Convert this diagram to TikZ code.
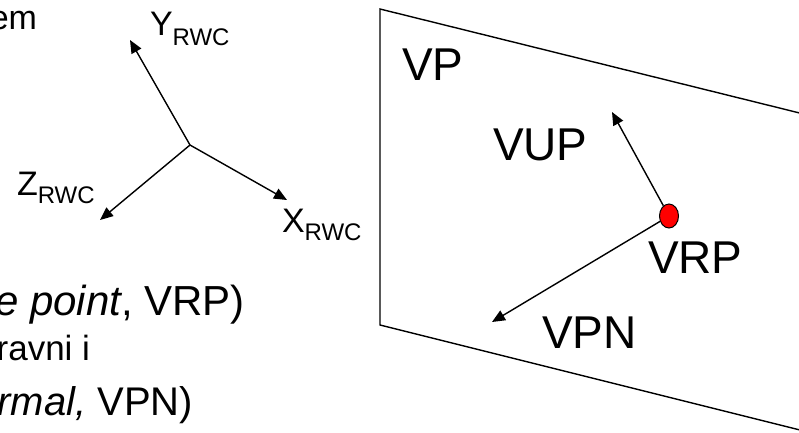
\documentclass[tikz,border=0pt]{standalone}
\usepackage{fontspec}
\setmainfont{Liberation Sans}
\usetikzlibrary{arrows.meta,shapes.geometric}
\newcommand{\fs}[1]{\fontsize{#1}{#1}\selectfont}
\begin{document}
\begin{tikzpicture}[x=1pt,y=-1pt,
  lbl/.style={inner sep=0pt,outer sep=0pt},
  axis/.style={line width=1.4pt,-{Triangle[length=13pt,width=11pt]}},
  edge/.style={line width=1.4pt}]
\useasboundingbox (0,0) rectangle (799,432);
\clip (0,0) rectangle (799,432);
% plane
\coordinate (p1) at (380,9);
\coordinate (p2) at (840,123);
\coordinate (p3) at (380,325);
\coordinate (p4) at (840,440);
\draw[edge, line join=miter] (p2) -- (p1) -- (p3) -- (p4);
% world axes
\coordinate (o) at (190,145);
\coordinate (ytip) at (130,40);
\coordinate (xtip) at (287,200);
\coordinate (ztip) at (100,220);
\draw[axis] (o) -- (ytip);
\draw[axis] (o) -- (xtip);
\draw[axis] (o) -- (ztip);
\node[lbl,anchor=base west] (ylab) at (150,35) {\fs{34}Y\raisebox{-10pt}{\fs{24}RWC}};
\node[lbl,anchor=base west] (zlab) at (17,195) {\fs{34}Z\raisebox{-8pt}{\fs{24}RWC}};
\node[lbl,anchor=base west] (xlab) at (282,232) {\fs{34}X\raisebox{-8pt}{\fs{24}RWC}};
% VRP and vectors
\node[draw=black,line width=1pt,fill=red,ellipse,minimum width=19pt,minimum height=24pt,inner sep=0pt] (vrp) at (669,216) {};
\coordinate (vuptip) at (612,112);
\coordinate (vpntip) at (492,322);
\draw[axis] (vrp) -- (vuptip);
\draw[axis] (vrp) -- (vpntip);
\node[lbl,anchor=base west] (vp) at (402,80) {\fs{46}VP};
\node[lbl,anchor=base west] (vup) at (493,160) {\fs{46}VUP};
\node[lbl,anchor=base west] (vrplab) at (648,273) {\fs{46}VRP};
\node[lbl,anchor=base west] (vpn) at (542,348) {\fs{46}VPN};
% truncated body text
\node[lbl,anchor=base east] (t0) at (37,29) {\fs{34}em};
\node[lbl,anchor=base east] (t1) at (245,315) {\fs{42}\textit{e point}, VRP)};
\node[lbl,anchor=base east] (t2) at (90,360) {\fs{35}ravni i};
\node[lbl,anchor=base east] (t3) at (193,415) {\fs{40}\textit{rmal,} VPN)};
\end{tikzpicture}
\end{document}
